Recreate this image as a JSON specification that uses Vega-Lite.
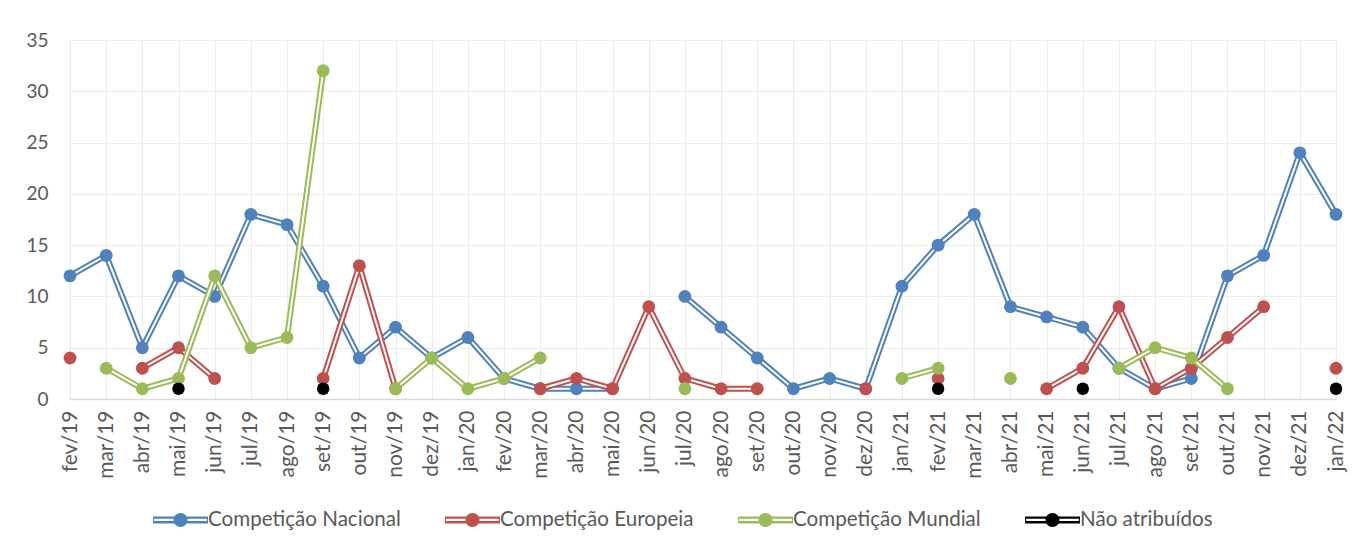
{
  "$schema": "https://vega.github.io/schema/vega-lite/v6.json",
  "width": 1266,
  "height": 359,
  "autosize": {"type": "none"},
  "padding": {"left": 70, "top": 40, "right": 17, "bottom": 151},
  "background": "white",
  "config": {
    "view": {"stroke": null},
    "font": "Lato",
    "axis": {"labelFont": "Lato", "labelColor": "#595959", "gridColor": "#ECECEC", "gridWidth": 1, "title": null},
    "legend": {"labelFont": "Lato", "labelFontSize": 20.6, "labelColor": "#595959", "labelOffset": 0, "labelLimit": 400, "columnPadding": 44, "symbolStrokeWidth": 0, "padding": 0}
  },
  "data": {
    "values": [
      {"mes": "fev/19", "serie": "Competição Nacional", "valor": 12},
      {"mes": "mar/19", "serie": "Competição Nacional", "valor": 14},
      {"mes": "abr/19", "serie": "Competição Nacional", "valor": 5},
      {"mes": "mai/19", "serie": "Competição Nacional", "valor": 12},
      {"mes": "jun/19", "serie": "Competição Nacional", "valor": 10},
      {"mes": "jul/19", "serie": "Competição Nacional", "valor": 18},
      {"mes": "ago/19", "serie": "Competição Nacional", "valor": 17},
      {"mes": "set/19", "serie": "Competição Nacional", "valor": 11},
      {"mes": "out/19", "serie": "Competição Nacional", "valor": 4},
      {"mes": "nov/19", "serie": "Competição Nacional", "valor": 7},
      {"mes": "dez/19", "serie": "Competição Nacional", "valor": 4},
      {"mes": "jan/20", "serie": "Competição Nacional", "valor": 6},
      {"mes": "fev/20", "serie": "Competição Nacional", "valor": 2},
      {"mes": "mar/20", "serie": "Competição Nacional", "valor": 1},
      {"mes": "abr/20", "serie": "Competição Nacional", "valor": 1},
      {"mes": "mai/20", "serie": "Competição Nacional", "valor": 1},
      {"mes": "jun/20", "serie": "Competição Nacional", "valor": null},
      {"mes": "jul/20", "serie": "Competição Nacional", "valor": 10},
      {"mes": "ago/20", "serie": "Competição Nacional", "valor": 7},
      {"mes": "set/20", "serie": "Competição Nacional", "valor": 4},
      {"mes": "out/20", "serie": "Competição Nacional", "valor": 1},
      {"mes": "nov/20", "serie": "Competição Nacional", "valor": 2},
      {"mes": "dez/20", "serie": "Competição Nacional", "valor": 1},
      {"mes": "jan/21", "serie": "Competição Nacional", "valor": 11},
      {"mes": "fev/21", "serie": "Competição Nacional", "valor": 15},
      {"mes": "mar/21", "serie": "Competição Nacional", "valor": 18},
      {"mes": "abr/21", "serie": "Competição Nacional", "valor": 9},
      {"mes": "mai/21", "serie": "Competição Nacional", "valor": 8},
      {"mes": "jun/21", "serie": "Competição Nacional", "valor": 7},
      {"mes": "jul/21", "serie": "Competição Nacional", "valor": 3},
      {"mes": "ago/21", "serie": "Competição Nacional", "valor": 1},
      {"mes": "set/21", "serie": "Competição Nacional", "valor": 2},
      {"mes": "out/21", "serie": "Competição Nacional", "valor": 12},
      {"mes": "nov/21", "serie": "Competição Nacional", "valor": 14},
      {"mes": "dez/21", "serie": "Competição Nacional", "valor": 24},
      {"mes": "jan/22", "serie": "Competição Nacional", "valor": 18},

      {"mes": "fev/19", "serie": "Competição Europeia", "valor": 4},
      {"mes": "mar/19", "serie": "Competição Europeia", "valor": null},
      {"mes": "abr/19", "serie": "Competição Europeia", "valor": 3},
      {"mes": "mai/19", "serie": "Competição Europeia", "valor": 5},
      {"mes": "jun/19", "serie": "Competição Europeia", "valor": 2},
      {"mes": "jul/19", "serie": "Competição Europeia", "valor": null},
      {"mes": "ago/19", "serie": "Competição Europeia", "valor": null},
      {"mes": "set/19", "serie": "Competição Europeia", "valor": 2},
      {"mes": "out/19", "serie": "Competição Europeia", "valor": 13},
      {"mes": "nov/19", "serie": "Competição Europeia", "valor": 1},
      {"mes": "dez/19", "serie": "Competição Europeia", "valor": null},
      {"mes": "jan/20", "serie": "Competição Europeia", "valor": null},
      {"mes": "fev/20", "serie": "Competição Europeia", "valor": null},
      {"mes": "mar/20", "serie": "Competição Europeia", "valor": 1},
      {"mes": "abr/20", "serie": "Competição Europeia", "valor": 2},
      {"mes": "mai/20", "serie": "Competição Europeia", "valor": 1},
      {"mes": "jun/20", "serie": "Competição Europeia", "valor": 9},
      {"mes": "jul/20", "serie": "Competição Europeia", "valor": 2},
      {"mes": "ago/20", "serie": "Competição Europeia", "valor": 1},
      {"mes": "set/20", "serie": "Competição Europeia", "valor": 1},
      {"mes": "out/20", "serie": "Competição Europeia", "valor": null},
      {"mes": "nov/20", "serie": "Competição Europeia", "valor": null},
      {"mes": "dez/20", "serie": "Competição Europeia", "valor": 1},
      {"mes": "jan/21", "serie": "Competição Europeia", "valor": null},
      {"mes": "fev/21", "serie": "Competição Europeia", "valor": 2},
      {"mes": "mar/21", "serie": "Competição Europeia", "valor": null},
      {"mes": "abr/21", "serie": "Competição Europeia", "valor": null},
      {"mes": "mai/21", "serie": "Competição Europeia", "valor": 1},
      {"mes": "jun/21", "serie": "Competição Europeia", "valor": 3},
      {"mes": "jul/21", "serie": "Competição Europeia", "valor": 9},
      {"mes": "ago/21", "serie": "Competição Europeia", "valor": 1},
      {"mes": "set/21", "serie": "Competição Europeia", "valor": 3},
      {"mes": "out/21", "serie": "Competição Europeia", "valor": 6},
      {"mes": "nov/21", "serie": "Competição Europeia", "valor": 9},
      {"mes": "dez/21", "serie": "Competição Europeia", "valor": null},
      {"mes": "jan/22", "serie": "Competição Europeia", "valor": 3},

      {"mes": "fev/19", "serie": "Competição Mundial", "valor": null},
      {"mes": "mar/19", "serie": "Competição Mundial", "valor": 3},
      {"mes": "abr/19", "serie": "Competição Mundial", "valor": 1},
      {"mes": "mai/19", "serie": "Competição Mundial", "valor": 2},
      {"mes": "jun/19", "serie": "Competição Mundial", "valor": 12},
      {"mes": "jul/19", "serie": "Competição Mundial", "valor": 5},
      {"mes": "ago/19", "serie": "Competição Mundial", "valor": 6},
      {"mes": "set/19", "serie": "Competição Mundial", "valor": 32},
      {"mes": "out/19", "serie": "Competição Mundial", "valor": null},
      {"mes": "nov/19", "serie": "Competição Mundial", "valor": 1},
      {"mes": "dez/19", "serie": "Competição Mundial", "valor": 4},
      {"mes": "jan/20", "serie": "Competição Mundial", "valor": 1},
      {"mes": "fev/20", "serie": "Competição Mundial", "valor": 2},
      {"mes": "mar/20", "serie": "Competição Mundial", "valor": 4},
      {"mes": "abr/20", "serie": "Competição Mundial", "valor": null},
      {"mes": "mai/20", "serie": "Competição Mundial", "valor": null},
      {"mes": "jun/20", "serie": "Competição Mundial", "valor": null},
      {"mes": "jul/20", "serie": "Competição Mundial", "valor": 1},
      {"mes": "ago/20", "serie": "Competição Mundial", "valor": null},
      {"mes": "set/20", "serie": "Competição Mundial", "valor": null},
      {"mes": "out/20", "serie": "Competição Mundial", "valor": null},
      {"mes": "nov/20", "serie": "Competição Mundial", "valor": null},
      {"mes": "dez/20", "serie": "Competição Mundial", "valor": null},
      {"mes": "jan/21", "serie": "Competição Mundial", "valor": 2},
      {"mes": "fev/21", "serie": "Competição Mundial", "valor": 3},
      {"mes": "mar/21", "serie": "Competição Mundial", "valor": null},
      {"mes": "abr/21", "serie": "Competição Mundial", "valor": 2},
      {"mes": "mai/21", "serie": "Competição Mundial", "valor": null},
      {"mes": "jun/21", "serie": "Competição Mundial", "valor": null},
      {"mes": "jul/21", "serie": "Competição Mundial", "valor": 3},
      {"mes": "ago/21", "serie": "Competição Mundial", "valor": 5},
      {"mes": "set/21", "serie": "Competição Mundial", "valor": 4},
      {"mes": "out/21", "serie": "Competição Mundial", "valor": 1},
      {"mes": "nov/21", "serie": "Competição Mundial", "valor": null},
      {"mes": "dez/21", "serie": "Competição Mundial", "valor": null},
      {"mes": "jan/22", "serie": "Competição Mundial", "valor": null},

      {"mes": "mai/19", "serie": "Não atribuídos", "valor": 1},
      {"mes": "set/19", "serie": "Não atribuídos", "valor": 1},
      {"mes": "fev/21", "serie": "Não atribuídos", "valor": 1},
      {"mes": "jun/21", "serie": "Não atribuídos", "valor": 1},
      {"mes": "jan/22", "serie": "Não atribuídos", "valor": 1}
    ]
  },
  "encoding": {
    "x": {
      "field": "mes", "type": "ordinal",
      "scale": {"type": "point", "padding": 0, "domain": ["fev/19","mar/19","abr/19","mai/19","jun/19","jul/19","ago/19","set/19","out/19","nov/19","dez/19","jan/20","fev/20","mar/20","abr/20","mai/20","jun/20","jul/20","ago/20","set/20","out/20","nov/20","dez/20","jan/21","fev/21","mar/21","abr/21","mai/21","jun/21","jul/21","ago/21","set/21","out/21","nov/21","dez/21","jan/22"]},
      "axis": {"labelAngle": -90, "labelFontSize": 21, "labelPadding": 11, "ticks": false, "domainColor": "#D9D9D9", "domainWidth": 1.5, "grid": true, "labelOverlap": false}
    },
    "y": {
      "field": "valor", "type": "quantitative",
      "scale": {"domain": [0, 35], "nice": false},
      "axis": {"values": [0,5,10,15,20,25,30,35], "labelFontSize": 19, "labelPadding": 22, "ticks": false, "domain": false, "grid": true}
    }
  },
  "layer": [
    {"transform": [{"filter": "datum.serie === 'Competição Nacional'"}], "mark": {"type": "line", "color": "#4F81BD", "strokeWidth": 6, "strokeJoin": "round", "invalid": "break-paths-filter-domains"}},
    {"transform": [{"filter": "datum.serie === 'Competição Nacional'"}], "mark": {"type": "line", "color": "white", "strokeWidth": 2, "strokeJoin": "round", "invalid": "break-paths-filter-domains"}},
    {"transform": [{"filter": "datum.serie === 'Competição Nacional'"}], "mark": {"type": "point", "filled": true, "opacity": 1, "size": 165},
     "encoding": {"fill": {"field": "serie", "type": "nominal", "scale": {"domain": ["Competição Nacional", "Competição Europeia", "Competição Mundial", "Não atribuídos"], "range": ["#4F81BD", "#C0504D", "#9BBB59", "#000000"]},
       "legend": {"title": null, "orient": "none", "legendX": 83, "legendY": 452, "direction": "horizontal", "symbolSize": 3025, "symbolType": "M-1,-0.127L1,-0.127L1,0.127L-1,0.127ZM-0.96,-0.04L-0.96,0.04L0.96,0.04L0.96,-0.04ZM0.255,0A0.255,0.255,0,1,1,-0.255,0A0.255,0.255,0,1,1,0.255,0Z"}}}},

    {"transform": [{"filter": "datum.serie === 'Competição Europeia'"}], "mark": {"type": "line", "color": "#C0504D", "strokeWidth": 6, "strokeJoin": "round", "invalid": "break-paths-filter-domains"}},
    {"transform": [{"filter": "datum.serie === 'Competição Europeia'"}], "mark": {"type": "line", "color": "white", "strokeWidth": 2, "strokeJoin": "round", "invalid": "break-paths-filter-domains"}},
    {"transform": [{"filter": "datum.serie === 'Competição Europeia'"}], "mark": {"type": "point", "filled": true, "opacity": 1, "size": 165},
     "encoding": {"fill": {"field": "serie", "type": "nominal"}}},

    {"transform": [{"filter": "datum.serie === 'Competição Mundial'"}], "mark": {"type": "line", "color": "#9BBB59", "strokeWidth": 6, "strokeJoin": "round", "invalid": "break-paths-filter-domains"}},
    {"transform": [{"filter": "datum.serie === 'Competição Mundial'"}], "mark": {"type": "line", "color": "white", "strokeWidth": 2, "strokeJoin": "round", "invalid": "break-paths-filter-domains"}},
    {"transform": [{"filter": "datum.serie === 'Competição Mundial'"}], "mark": {"type": "point", "filled": true, "opacity": 1, "size": 165},
     "encoding": {"fill": {"field": "serie", "type": "nominal"}}},

    {"transform": [{"filter": "datum.serie === 'Não atribuídos'"}], "mark": {"type": "point", "filled": true, "opacity": 1, "size": 155},
     "encoding": {"fill": {"field": "serie", "type": "nominal"}}}
  ]
}
